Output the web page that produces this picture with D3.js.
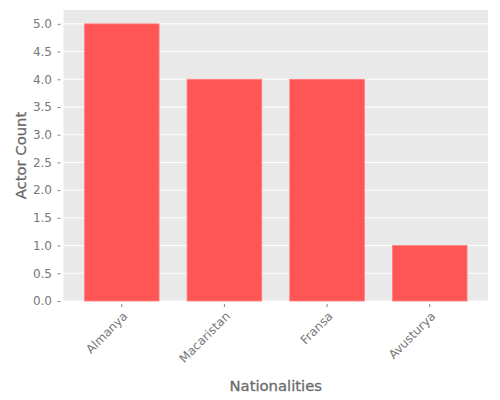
<!DOCTYPE html>
<html>
<head>
<meta charset="utf-8">
<script src="https://cdn.jsdelivr.net/npm/d3@7"></script>
<style>
  body { margin: 0; background: #fff; }
  text { font-family: "DejaVu Sans", sans-serif; }
</style>
</head>
<body>
<svg id="chart"></svg>
<script>
let nationalities = ["Almanya", "Macaristan", "Fransa", "Avusturya"];
let actorCounts = [5, 4, 4, 1];
let yTicks = [0, 0.5, 1, 1.5, 2, 2.5, 3, 3.5, 4, 4.5, 5];

function drawChart() {
    let w = 500, h = 400;
    let margin = {top: 10, right: 12, bottom: 99, left: 63.5};
    let svg = d3.select("#chart")
              .attr('width', w)
              .attr('height', h);

    let x = d3.scaleBand()
            .domain(nationalities)
            .range([margin.left, w - margin.right])
            .paddingInner(0.273)
            .paddingOuter(0.204);

    let y = d3.scaleLinear()
            .domain([0, 5.25])
            .range([h - margin.bottom, margin.top]);

    // panel background
    svg.append('rect')
        .attr('x', margin.left)
        .attr('y', margin.top)
        .attr('width', w - margin.right - margin.left)
        .attr('height', h - margin.bottom - margin.top)
        .style('fill', '#e9e9e9');

    // grid
    svg.append('g')
        .selectAll('line')
        .data(yTicks)
        .enter()
        .append('line')
        .attr('x1', margin.left)
        .attr('x2', w - margin.right)
        .attr('y1', d => y(d))
        .attr('y2', d => y(d))
        .style('stroke', '#fff')
        .style('stroke-width', 1);

    // bars
    svg.append('g')
        .selectAll('rect')
        .data(actorCounts)
        .enter()
        .append('rect')
        .attr('x', (d, i) => x(nationalities[i]))
        .attr('y', d => y(d))
        .attr('width', x.bandwidth())
        .attr('height', d => y(0) - y(d))
        .style('fill', '#ff5555')
        .style('stroke', '#ff8080')
        .style('stroke-width', 0.8);

    let yAxis = svg.append('g')
        .attr('transform', `translate(${margin.left - 3},0)`)
        .call(d3.axisLeft(y).tickValues(yTicks).tickFormat(d3.format('.1f')).tickSize(3).tickPadding(5.5));

    let xAxis = svg.append('g')
        .attr('transform', `translate(0,${h - margin.bottom + 3})`)
        .call(d3.axisBottom(x).tickSize(3).tickPadding(4));

    [yAxis, xAxis].forEach(a => {
        a.select('.domain').remove();
        a.selectAll('line').style('stroke', '#888');
        a.selectAll('text')
            .style('fill', '#777')
            .style('font-size', '12px');
    });

    // rotated labels, anchored at their top-right corner
    xAxis.selectAll('text')
        .attr('text-anchor', 'end')
        .attr('dy', '0.76em')
        .attr('transform', 'translate(0,6.5) rotate(-45)')
        .attr('x', 0)
        .attr('y', 0);

    svg.append('text')
        .attr('x', (margin.left + w - margin.right) / 2)
        .attr('y', 391)
        .attr('text-anchor', 'middle')
        .style('font-size', '14.8px')
        .style('fill', '#6a6a6a')
        .style('stroke', '#6a6a6a')
        .style('stroke-width', 0.3)
        .text('Nationalities');

    svg.append('text')
        .attr('transform', `translate(25.5,${(margin.top + h - margin.bottom) / 2}) rotate(-90)`)
        .attr('text-anchor', 'middle')
        .style('font-size', '14.8px')
        .style('fill', '#6a6a6a')
        .style('stroke', '#6a6a6a')
        .style('stroke-width', 0.3)
        .text('Actor Count');
}

drawChart();
</script>
</body>
</html>
